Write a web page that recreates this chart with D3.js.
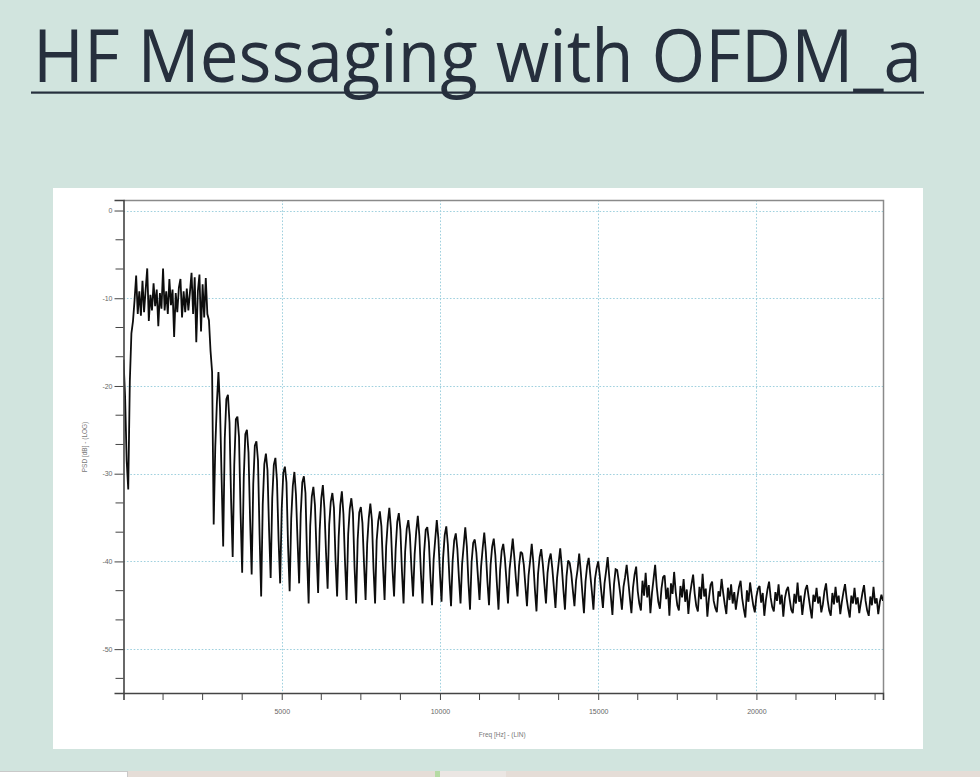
<!DOCTYPE html>
<html>
<head>
<meta charset="utf-8">
<script src="https://cdn.jsdelivr.net/npm/d3@7"></script>
<style>
  html, body { margin: 0; padding: 0; background: #d1e4de; }
  svg { display: block; }
</style>
</head>
<body>
<svg id="chart" width="980" height="777"></svg>
<script>
// ---------------- DATA ----------------
const titleText = "HF Messaging with OFDM_a";
const xAxisTitle = "Freq [Hz] - (LIN)";
const yAxisTitle = "PSD [dB] - (LOG)";
const xDomain = [0, 24000];
const yDomain = [-55, 1.2];
const xTickValues = [5000, 10000, 15000, 20000];
const xTickLabels = ["5000", "10000", "15000", "20000"];
const yTickValues = [0, -10, -20, -30, -40, -50];
const yTickLabels = ["0", "-10", "-20", "-30", "-40", "-50"];
const freqStepHz = 50; // spacing of the PSD samples, starting at 0 Hz
// PSD in dB, one row = 300 Hz (6 samples of 50 Hz)
const psdDb = [
  -17.0, -21.2, -28.5, -31.8, -19.5, -14.0,   // 0
  -12.6, -10.2, -7.4, -11.8, -9.2, -12.0,     // 300
  -8.0, -11.6, -9.0, -6.6, -12.6, -9.6,       // 600
  -11.4, -8.3, -10.9, -9.0, -13.2, -9.4,      // 900
  -11.2, -6.6, -11.4, -9.2, -11.8, -7.8,      // 1200
  -10.8, -9.0, -14.4, -9.4, -11.6, -8.8,      // 1500
  -7.8, -12.2, -9.2, -11.6, -8.9, -11.4,      // 1800
  -9.3, -7.1, -11.8, -7.6, -15.0, -9.2,       // 2100
  -7.3, -13.8, -8.4, -12.2, -7.7, -11.8,      // 2400
  -12.5, -16.0, -18.4, -35.8, -27.0, -22.0,   // 2700
  -18.4, -22.5, -30.5, -38.3, -26.0, -21.5,   // 3000
  -21.0, -24.2, -33.0, -39.5, -29.0, -23.8,
  -23.5, -25.8, -34.5, -41.3, -30.5, -25.5,
  -25.0, -27.6, -35.2, -41.5, -31.2, -26.8,
  -26.3, -28.5, -37.0, -44.0, -33.5, -28.9,
  -27.7, -29.6, -36.4, -41.9, -32.8, -29.0,
  -28.2, -30.8, -37.5, -42.5, -34.0, -29.9,
  -29.2, -31.0, -38.2, -43.4, -35.1, -31.4,
  -29.8, -32.4, -37.6, -42.5, -34.6, -31.0,
  -30.3, -32.2, -39.5, -44.8, -36.0, -32.6,
  -31.5, -33.6, -38.9, -43.6, -36.4, -32.8,   // 6000
  -31.3, -34.0, -39.0, -43.1, -35.8, -33.2,
  -32.2, -33.9, -39.8, -44.0, -37.2, -33.6,
  -32.0, -34.6, -40.1, -44.4, -36.9, -34.0,
  -32.8, -34.5, -40.6, -44.8, -37.5, -34.4,
  -33.8, -35.6, -40.2, -44.4, -38.0, -35.1,
  -33.4, -35.3, -40.8, -44.8, -37.6, -35.4,
  -34.3, -36.0, -40.5, -44.4, -38.3, -35.6,
  -33.9, -36.2, -40.9, -44.0, -38.6, -35.5,
  -34.5, -36.4, -41.2, -44.8, -38.9, -36.3,
  -35.3, -37.0, -40.9, -44.0, -39.2, -36.6,   // 9000
  -34.8, -37.1, -41.5, -44.8, -39.0, -36.4,
  -36.1, -37.8, -41.8, -45.0, -39.8, -37.5,
  -35.3, -37.4, -41.4, -44.6, -39.6, -37.0,
  -36.0, -38.1, -42.0, -45.1, -40.0, -37.6,
  -36.8, -38.6, -41.9, -44.8, -40.3, -38.2,
  -36.1, -38.3, -42.4, -45.5, -40.1, -37.9,
  -37.5, -39.0, -41.7, -44.4, -40.6, -38.5,
  -36.7, -38.9, -42.3, -45.0, -40.4, -38.3,
  -37.4, -39.3, -42.6, -45.5, -41.0, -38.8,
  -38.0, -39.6, -42.1, -44.8, -40.9, -39.2,   // 12000
  -37.4, -39.5, -42.0, -44.0, -40.5, -38.9,
  -39.1, -40.4, -42.8, -45.1, -41.6, -39.9,
  -38.0, -40.1, -43.2, -45.7, -41.4, -39.5,
  -38.6, -40.3, -42.6, -44.8, -41.3, -39.8,
  -39.1, -40.8, -43.0, -45.3, -41.9, -40.2,
  -38.5, -40.6, -43.2, -45.5, -41.7, -39.9,
  -40.2, -41.4, -43.3, -45.1, -42.2, -40.9,
  -39.1, -41.2, -43.6, -45.9, -42.3, -40.5,
  -39.6, -41.5, -43.4, -45.5, -42.0, -40.8,
  -40.0, -41.6, -43.5, -45.3, -42.5, -41.1,   // 15000
  -39.5, -41.8, -44.0, -46.1, -42.6, -40.9,
  -41.0, -42.3, -43.8, -45.5, -42.9, -41.8,
  -40.4, -42.2, -44.1, -45.9, -43.0, -41.5,
  -40.6, -43.4, -44.8, -45.6, -42.2, -43.9,
  -41.3, -44.1, -42.7, -45.9, -43.6, -42.0,
  -40.4, -42.9, -44.6, -45.4, -43.1, -41.8,
  -41.6, -44.3, -43.0, -46.2, -42.5, -43.7,
  -41.2, -43.5, -45.0, -45.6, -42.8, -44.1,
  -42.0, -44.6, -43.2, -46.0, -43.8, -42.6,
  -41.5, -43.7, -45.1, -45.7, -42.9, -44.3,   // 18000
  -41.4, -44.0, -43.1, -46.3, -44.2, -42.7,
  -42.3, -44.5, -45.3, -45.8, -43.4, -44.0,
  -42.0, -43.6, -44.9, -46.0, -43.0, -44.4,
  -42.6, -44.8, -43.5, -45.5, -44.1, -42.9,
  -42.2, -44.2, -45.4, -46.4, -43.3, -44.6,
  -42.4, -43.8, -45.0, -45.8, -44.0, -43.1,
  -42.8, -44.7, -43.6, -46.2, -44.4, -43.2,
  -42.3, -44.1, -45.2, -45.7, -43.5, -44.5,
  -42.6, -44.9, -43.8, -46.3, -44.2, -43.3,
  -42.9, -44.3, -45.5, -45.9, -43.7, -44.8,   // 21000
  -42.4, -44.6, -43.9, -46.1, -44.5, -43.2,
  -42.7, -44.0, -45.3, -46.5, -43.8, -44.6,
  -43.0, -44.8, -44.0, -45.8, -44.9, -43.4,
  -42.5, -44.4, -45.6, -46.2, -43.6, -44.9,
  -42.9, -44.7, -43.9, -46.0, -44.6, -43.5,
  -42.6, -44.2, -45.4, -46.4, -43.9, -44.8,
  -43.0, -44.9, -44.1, -45.9, -44.7, -43.6,
  -42.7, -44.5, -45.6, -46.2, -44.0, -45.0,
  -42.9, -44.8, -44.2, -46.0, -44.6, -43.8,
  -44.5                                        // 24000
];

// ---------------- DRAWING ----------------
const svg = d3.select("#chart");

// bottom strip (screenshot edge)
svg.append("rect").attr("x", 0).attr("y", 771).attr("width", 980).attr("height", 6).attr("fill", "#e5ddd7");
svg.append("rect").attr("x", 0).attr("y", 771).attr("width", 128).attr("height", 6).attr("fill", "#ffffff");
svg.append("line").attr("x1", 0).attr("x2", 128).attr("y1", 771.5).attr("y2", 771.5).attr("stroke", "#c9c9c9");
svg.append("line").attr("x1", 127.5).attr("x2", 127.5).attr("y1", 771).attr("y2", 777).attr("stroke", "#c9c9c9");
svg.append("rect").attr("x", 435).attr("y", 771).attr("width", 5).attr("height", 6).attr("fill", "#b6dba4");
svg.append("rect").attr("x", 440).attr("y", 771).attr("width", 66).attr("height", 6).attr("fill", "#ebe6e3");

// Title
svg.append("text")
  .attr("x", 33).attr("y", 82)
  .attr("font-family", "'Open Sans', 'Noto Sans', sans-serif")
  .attr("font-size", 73)
  .attr("font-weight", 400)
  .attr("fill", "#262f3d")
  .attr("textLength", 889)
  .attr("lengthAdjust", "spacingAndGlyphs")
  .text(titleText);
svg.append("rect").attr("x", 31).attr("y", 91.5).attr("width", 893).attr("height", 2.2).attr("fill", "#262f3d");

// White panel
svg.append("rect").attr("x", 53).attr("y", 188).attr("width", 870).attr("height", 561).attr("fill", "#ffffff");

const plot = { left: 123.5, right: 883, top: 200, bottom: 693 };
const x = d3.scaleLinear().domain(xDomain).range([plot.left, plot.right]);
const y = d3.scaleLinear().domain(yDomain).range([plot.bottom, plot.top]);

// grid
const grid = svg.append("g").attr("stroke", "#9fd0de").attr("stroke-width", 1).attr("stroke-dasharray", "1.6,1.8");
grid.selectAll(".gy").data(yTickValues).join("line")
  .attr("x1", plot.left).attr("x2", plot.right)
  .attr("y1", d => Math.round(y(d)) + 0.5).attr("y2", d => Math.round(y(d)) + 0.5);
grid.selectAll(".gx").data(xTickValues).join("line")
  .attr("y1", plot.top).attr("y2", plot.bottom)
  .attr("x1", d => Math.round(x(d)) + 0.5).attr("x2", d => Math.round(x(d)) + 0.5);

// frame (top & right)
svg.append("path")
  .attr("d", `M${plot.left},${plot.top + 0.5}H${plot.right + 0.5}V${plot.bottom}`)
  .attr("fill", "none").attr("stroke", "#8a8a8a").attr("stroke-width", 1.5);

// trace
svg.append("clipPath").attr("id", "clip").append("rect")
  .attr("x", plot.left).attr("y", plot.top).attr("width", plot.right - plot.left).attr("height", plot.bottom - plot.top);
const line = d3.line().x((d, i) => x(i * freqStepHz)).y(d => y(d));
svg.append("path")
  .datum(psdDb)
  .attr("clip-path", "url(#clip)")
  .attr("d", line)
  .attr("fill", "none")
  .attr("stroke", "#0d0d0d")
  .attr("stroke-width", 1.8)
  .attr("stroke-linejoin", "miter")
  .attr("stroke-miterlimit", 2);

// Y axis
const yMinor = d3.range(0, yDomain[0], -10 / 3).filter(v => !yTickValues.some(t => Math.abs(t - v) < 0.01));
const yAxis = d3.axisLeft(y).tickValues(yTickValues).tickFormat((d, i) => yTickLabels[i]).tickSize(9).tickPadding(2);
const gy = svg.append("g").attr("transform", `translate(${plot.left},0)`).call(yAxis);
gy.selectAll(".minor").data(yMinor).join("line").attr("class", "minor")
  .attr("x1", -8).attr("x2", 0).attr("y1", d => y(d)).attr("y2", d => y(d)).attr("stroke", "#444");

// X axis
const xMinor = d3.range(1250, xDomain[1], 1250).filter(v => !xTickValues.includes(v));
const xAxis = d3.axisBottom(x).tickValues(xTickValues).tickFormat((d, i) => xTickLabels[i]).tickSize(7).tickPadding(9);
const gx = svg.append("g").attr("transform", `translate(0,${plot.bottom})`).call(xAxis);
gx.selectAll(".minor").data(xMinor).join("line").attr("class", "minor")
  .attr("x1", d => x(d)).attr("x2", d => x(d)).attr("y1", 0).attr("y2", 7).attr("stroke", "#444");

[gx, gy].forEach(g => {
  g.select(".domain").attr("stroke", "#444").attr("stroke-width", 1.6);
  g.selectAll(".tick line").attr("stroke", "#444");
  g.selectAll("text").attr("font-family", "'Liberation Sans', Arial, sans-serif").attr("font-size", 7).attr("fill", "#666");
});

// Axis titles
svg.append("text")
  .attr("x", (plot.left + plot.right) / 2 - 1).attr("y", 737)
  .attr("text-anchor", "middle")
  .attr("font-family", "'Liberation Sans', Arial, sans-serif").attr("font-size", 6.5).attr("fill", "#777")
  .text(xAxisTitle);
svg.append("text")
  .attr("transform", "translate(87,447) rotate(-90)")
  .attr("text-anchor", "middle")
  .attr("font-family", "'Liberation Sans', Arial, sans-serif").attr("font-size", 6.5).attr("fill", "#777")
  .text(yAxisTitle);
</script>
</body>
</html>
